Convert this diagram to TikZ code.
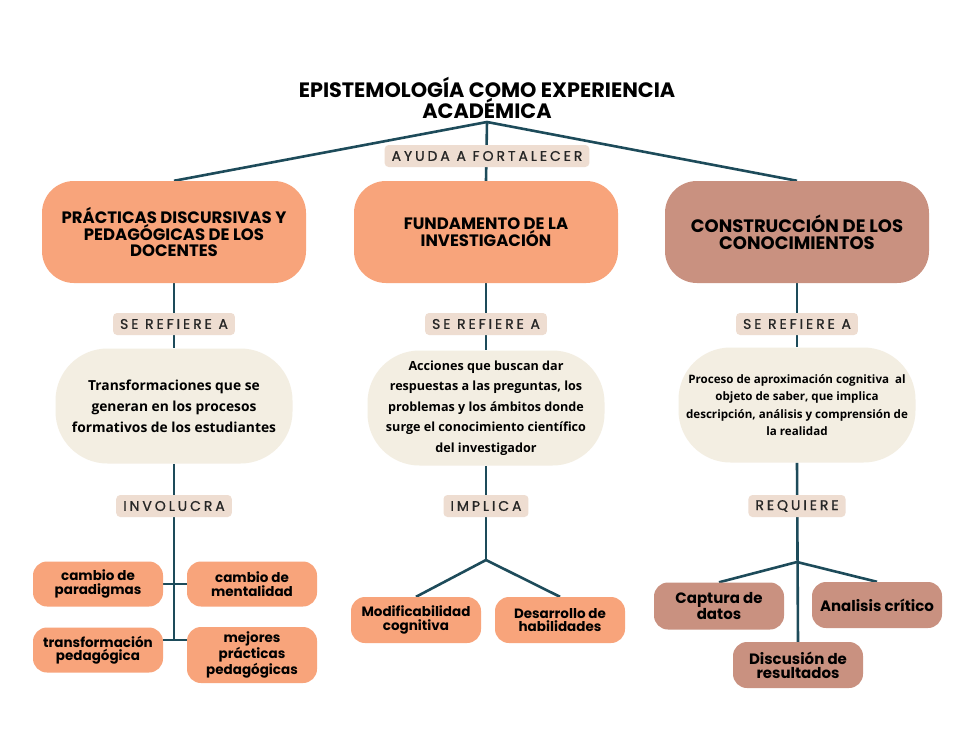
\documentclass[tikz,border=0pt]{standalone}
\usepackage{fontspec}
\setmainfont{Poppins}
\newfontfamily\spacedfont[LetterSpace=21, FakeBold=0.9]{Poppins}
\newfontfamily\bodyfont{Open Sans}
\usetikzlibrary{backgrounds}
\definecolor{peach}{HTML}{F8A47B}
\definecolor{clay}{HTML}{C99180}
\definecolor{cream}{HTML}{F3EEE2}
\definecolor{tag}{HTML}{EEDDD1}
\definecolor{ink}{HTML}{1D4B5A}

\tikzset{
  head/.style={rectangle, rounded corners=32pt, minimum width=264pt, minimum height=102pt,
    align=center, font=\bfseries\fontsize{16.5}{15.5}\selectfont},
  tagbox/.style={rectangle, fill=tag, rounded corners=4pt, minimum height=22pt, inner xsep=7pt,
    inner ysep=0pt, text=black!85, font=\spacedfont\fontsize{14}{12}\selectfont},
  idea/.style={rectangle, fill=cream, rounded corners=52pt, minimum width=237pt, minimum height=115pt,
    align=center},
  leaf/.style={rectangle, rounded corners=14pt, minimum width=130pt, minimum height=45pt,
    align=center, inner sep=2pt, font=\bfseries\fontsize{13.5}{13.5}\selectfont},
  link/.style={draw=ink, line width=2.6pt}
}

\begin{document}
\begin{tikzpicture}[x=1pt,y=-1pt]
\useasboundingbox (0,0) rectangle (975,731);

\node (title) at (487,98) [align=center, font=\bfseries\fontsize{20.8}{19}\selectfont]
  {EPISTEMOLOGÍA COMO EXPERIENCIA\\ACADÉMICA};
\coordinate (hub) at (487,122);
\node [tagbox] (ayuda) at (487,156) {AYUDA A FORTALECER};

\node [head, fill=peach] (pract) at (174,232) {PRÁCTICAS DISCURSIVAS Y\\PEDAGÓGICAS DE LOS\\DOCENTES};
\node [head, fill=peach] (fund) at (486,232) {FUNDAMENTO DE LA\\INVESTIGACIÓN};
\node [head, fill=clay, font=\bfseries\fontsize{18}{17}\selectfont] (const) at (797,232)
  {CONSTRUCCIÓN DE LOS\\CONOCIMIENTOS};

\node [tagbox] (ref1) at (174,324) {SE REFIERE A};
\node [tagbox] (ref2) at (486,324) {SE REFIERE A};
\node [tagbox] (ref3) at (797,324) {SE REFIERE A};

\node [idea, font=\bodyfont\bfseries\fontsize{13.8}{21}\selectfont] (trans) at (174,406)
  {Transformaciones que se\\generan en los procesos\\formativos de los estudiantes};
\node [idea, font=\bodyfont\bfseries\fontsize{12.6}{20.5}\selectfont] (acc) at (486,408)
  {Acciones que buscan dar\\respuestas a las preguntas, los\\problemas y los ámbitos donde\\surge el conocimiento científico\\del investigador};
\node [idea, font=\bodyfont\bfseries\fontsize{11.6}{17.5}\selectfont] (proc) at (797,405)
  {Proceso de aproximación cognitiva\ \ al\\objeto de saber, que implica\\descripción, análisis y comprensión de\\la realidad};

\node [tagbox] (inv) at (174,506) {INVOLUCRA};
\node [tagbox] (imp) at (486,506) {IMPLICA};
\node [tagbox] (req) at (797,506) {REQUIERE};

% hojas
\node [leaf, fill=peach] (par) at (98,584) {cambio de\\paradigmas};
\node [leaf, fill=peach] (men) at (252,584) {cambio de\\mentalidad};
\node [leaf, fill=peach] (tra) at (98,650) {transformación\\pedagógica};
\node [leaf, fill=peach, minimum height=56pt] (mej) at (252,655) {mejores\\prácticas\\pedagógicas};
\coordinate (lj) at (174,640);

\node [leaf, fill=peach, minimum height=46pt] (mod) at (416,620) {Modificabilidad\\cognitiva};
\node [leaf, fill=peach, minimum height=46pt] (des) at (560,620) {Desarrollo de\\habilidades};
\coordinate (mj) at (486,560);

\node [leaf, fill=clay, minimum height=47pt, font=\bfseries\fontsize{15}{14}\selectfont] (cap) at (719,606) {Captura de\\datos};
\node [leaf, fill=clay, minimum height=46pt, font=\bfseries\fontsize{15}{14}\selectfont] (ana) at (877,605) {Analisis crítico};
\node [leaf, fill=clay, minimum height=46pt, font=\bfseries\fontsize{15}{14}\selectfont] (dis) at (798,665) {Discusión de\\resultados};
\coordinate (rj) at (797,562);

\begin{scope}[on background layer]
\fill [white] (0,0) rectangle (975,731);
\draw [link] (hub) -- (pract.north);
\draw [link] (hub) -- (const.north);
\draw [link] (hub) -- (fund.north);
\draw [link] (pract) -- (trans);
\draw [link] (fund) -- (acc);
\draw [link] (const) -- (proc);
\draw [link] (trans.south) -- (lj);
\draw [link] (par.east) -- (men.west);
\draw [link] (lj -| tra.east) -- (lj -| mej.west);
\draw [link] (acc.south) -- (mj);
\draw [link] (mj) -- (mod.north);
\draw [link] (mj) -- (des.north);
\draw [link] (proc.south) -- (dis.north);
\draw [link] (rj) -- (cap.north);
\draw [link] (rj) -- (ana.north);
\end{scope}
\end{tikzpicture}
\end{document}
